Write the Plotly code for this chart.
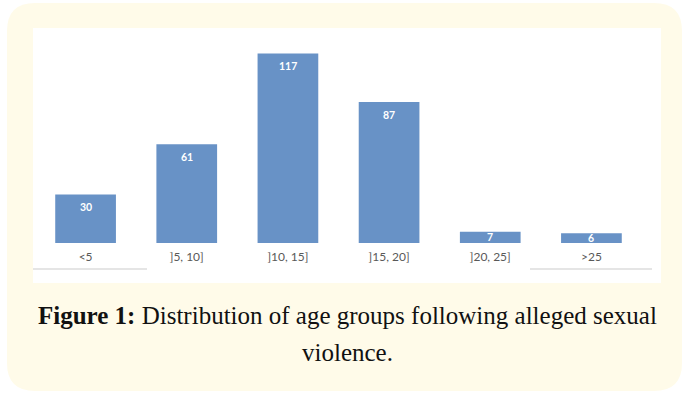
import plotly.graph_objects as go

categories = ["<5", "]5, 10]", "]10, 15]", "]15, 20]", "]20, 25]", ">25"]
counts = [30, 61, 117, 87, 7, 6]
caption_line1 = "<b>Figure 1:</b> Distribution of age groups following alleged sexual"
caption_line2 = "violence."

W, H = 686, 393
ML, MR, MT, MB = 35, 44, 28, 150
PW, PH = W - ML - MR, H - MT - MB
PX_PER_UNIT = 1.62

def px(x):
    return (x - ML) / PW

def py(y):
    return (H - MB - y) / PH

def rounded_rect(x0, y0, x1, y1, r):
    pts = [
        ("M", (x0 + r, y0)), ("L", (x1 - r, y0)), ("Q", (x1, y0), (x1, y0 + r)),
        ("L", (x1, y1 - r)), ("Q", (x1, y1), (x1 - r, y1)),
        ("L", (x0 + r, y1)), ("Q", (x0, y1), (x0, y1 - r)),
        ("L", (x0, y0 + r)), ("Q", (x0, y0), (x0 + r, y0)),
    ]
    s = ""
    for p in pts:
        s += p[0] + " " + " ".join(f"{px(a):.5f},{py(b):.5f}" for a, b in p[1:]) + " "
    return s + "Z"

fig = go.Figure()
fig.add_trace(go.Bar(
    x=categories, y=counts,
    marker=dict(color="#6892C6", line=dict(width=0)),
    hoverinfo="skip",
))

for c, v in zip(categories, counts):
    shift = -min(13, v * PX_PER_UNIT / 2)
    fig.add_annotation(x=c, y=v, text=f"<b>{v}</b>", showarrow=False,
                       yshift=shift, font=dict(family="Lato", size=10.5, color="white"))

shapes = [
    dict(type="path", xref="paper", yref="paper", layer="below",
         path=rounded_rect(7, 3, 682, 391, 28),
         fillcolor="#FFFBE9", line=dict(width=0)),
    dict(type="rect", xref="paper", yref="paper", layer="below",
         x0=px(33), x1=px(661), y0=py(283), y1=py(28),
         fillcolor="white", line=dict(width=0)),
    dict(type="line", xref="paper", yref="paper", layer="below",
         x0=px(33), x1=px(147), y0=py(269), y1=py(269),
         line=dict(color="#DDDDDD", width=1.5)),
    dict(type="line", xref="paper", yref="paper", layer="below",
         x0=px(530), x1=px(652), y0=py(269), y1=py(269),
         line=dict(color="#DDDDDD", width=1.5)),
]

fig.add_annotation(x=px(347), y=py(315), xref="paper", yref="paper", text=caption_line1,
                   showarrow=False, xanchor="center", yanchor="middle",
                   font=dict(family="Liberation Serif", size=25, color="#111111"))
fig.add_annotation(x=px(347), y=py(352), xref="paper", yref="paper", text=caption_line2,
                   showarrow=False, xanchor="center", yanchor="middle",
                   font=dict(family="Liberation Serif", size=25, color="#111111"))

fig.update_layout(
    width=W, height=H,
    margin=dict(l=ML, r=MR, t=MT, b=MB, pad=0),
    paper_bgcolor="white", plot_bgcolor="rgba(0,0,0,0)",
    bargap=0.4, showlegend=False, shapes=shapes,
    xaxis=dict(showline=False, showgrid=False, zeroline=False, ticks="outside",
               ticklen=3, tickcolor="rgba(0,0,0,0)",
               tickfont=dict(family="Lato", size=12, color="#595959"), fixedrange=True),
    yaxis=dict(range=[0, PH / PX_PER_UNIT], visible=False, showgrid=False, fixedrange=True),
)

fig.write_html("out.html")
